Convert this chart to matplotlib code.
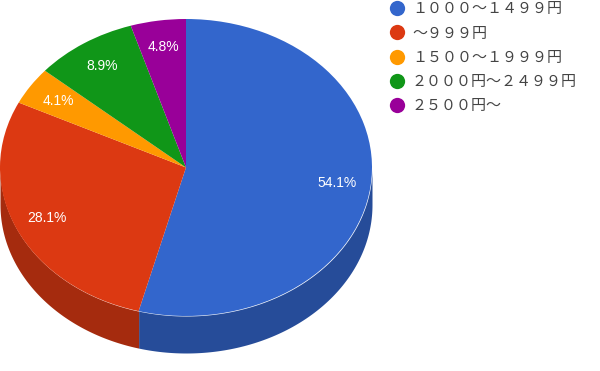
import matplotlib
matplotlib.use('Agg')
import matplotlib.pyplot as plt
import numpy as np
from matplotlib.lines import Line2D

labels = ['１０００～１４９９円', '～９９９円', '１５００～１９９９円', '２０００円～２４９９円', '２５００円～']
values = [54.1, 28.1, 4.1, 8.9, 4.8]
colors = ['#3366cc', '#dc3912', '#ff9900', '#109618', '#990099']
dark_colors = ['#264c99', '#a52b0e', '#bf7300', '#0c7012', '#730073']

# pie geometry in pixels
cx, cy = 186, 167.5
rx, ry = 186, 148.5
depth = 37

fig = plt.figure(figsize=(6, 3.71), dpi=100)
ax = fig.add_axes([0, 0, 1, 1])

# side of the pie, only the lower half of the ellipse shows
start = 90.0
for v, c in zip(values, dark_colors):
    end = start - v * 3.6
    a = max(start, -180) if start < 0 else 0
    b = max(end, -180)
    if b < a:
        t = np.radians(np.linspace(a, b, 100))
        ax.fill_between(np.cos(t), np.sin(t), np.sin(t) - depth / ry, color=c, lw=0)
    start = end

wedges, texts, autotexts = ax.pie(values, colors=colors, startangle=90, counterclock=False,
                                  autopct='%.1f%%', pctdistance=0.82,
                                  wedgeprops={'linewidth': 0},
                                  textprops={'color': 'white', 'fontsize': 10, 'family': 'Liberation Sans'})
ax.set_aspect('auto')
ax.set_xlim(-cx / rx, (600 - cx) / rx)
ax.set_ylim(-(371 - cy) / ry, cy / ry)
ax.axis('off')

handles = [Line2D([], [], linestyle='none', marker='o', markersize=11, color=c, markeredgewidth=0)
           for c in colors]
fig.legend(handles, labels, loc='upper left', bbox_to_anchor=(389.5 / 600, 1 - 2.5 / 371),
           frameon=False, borderpad=0, borderaxespad=0, handletextpad=0.5, handlelength=1.0,
           labelspacing=0.68, labelcolor='#444444',
           prop={'family': ['Noto Sans CJK JP', 'DejaVu Sans'], 'size': 10.8})

fig.savefig('out.png', dpi=100)
